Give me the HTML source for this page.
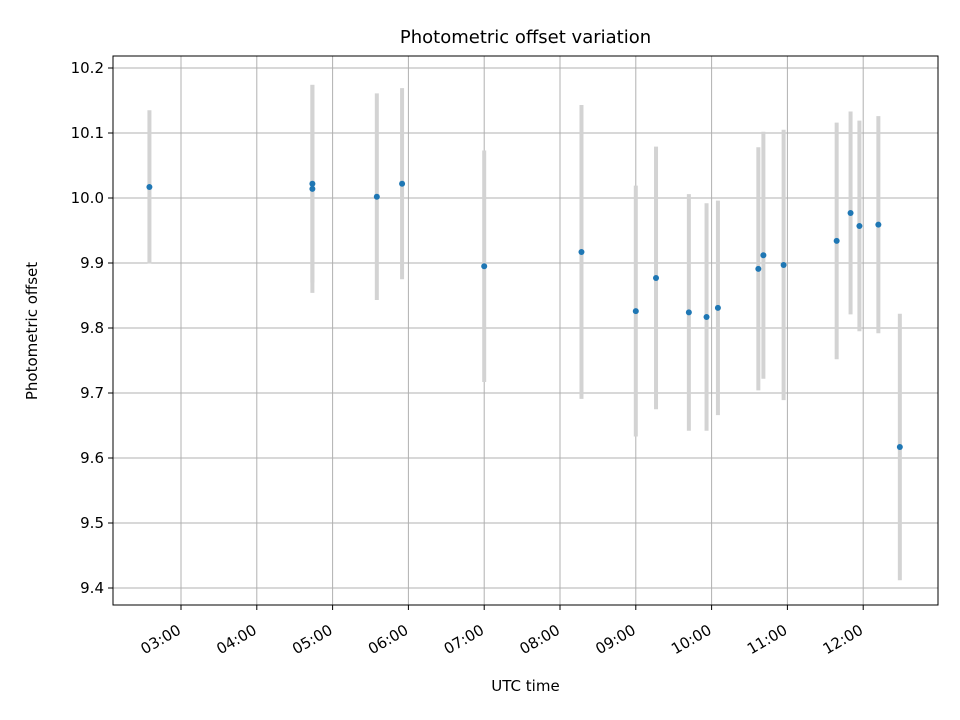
<!DOCTYPE html>
<html><head><meta charset="utf-8"><style>
body{margin:0;background:#fff}
svg{display:block;font-family:"DejaVu Sans","Liberation Sans",sans-serif}
</style></head><body>
<svg id="chart" width="960" height="720"></svg>
<script>
const times=["02:35","04:44","04:44","05:35","05:55","07:00","08:17","09:00","09:16","09:42","09:56","10:05","10:37","10:41","10:57","11:39","11:50","11:57","12:12","12:29"];
const offsets=[10.017,10.022,10.014,10.002,10.022,9.895,9.917,9.826,9.877,9.824,9.817,9.831,9.891,9.912,9.897,9.934,9.977,9.957,9.959,9.617];
const errors=[0.118,0.152,0.16,0.159,0.147,0.178,0.226,0.193,0.202,0.182,0.175,0.165,0.187,0.19,0.208,0.182,0.156,0.162,0.167,0.205];
const xTickLabels=["03:00","04:00","05:00","06:00","07:00","08:00","09:00","10:00","11:00","12:00"];
const yTickLabels=["9.4","9.5","9.6","9.7","9.8","9.9","10.0","10.1","10.2"];

const L=113,R=938,T=56,B=605;
const toH=s=>{const p=s.split(":");return +p[0]+ +p[1]/60;};
const X=h=>181+(h-3)*75.8;
const Y=v=>198-(v-10)*650;
const svg=document.getElementById('chart');
const NS="http://www.w3.org/2000/svg";
function mk(tag,attrs,parent){const e=document.createElementNS(NS,tag);for(const k in attrs)e.setAttribute(k,attrs[k]);(parent||svg).appendChild(e);return e;}

const grid=mk('g',{});


const axes=mk('g',{});


xTickLabels.forEach(t=>{
  const x=X(toH(t));
  mk('line',{x1:x,x2:x,y1:T,y2:B,stroke:'#b0b0b0','stroke-width':1},grid);
  mk('line',{x1:x,x2:x,y1:B,y2:B+5,stroke:'#000'},axes);
  const ax=x+1, ay=B+28;
  const tx=mk('text',{x:ax,y:ay,'font-size':15,'text-anchor':'end',transform:`rotate(-30 ${ax} ${ay})`},axes);
  tx.textContent=t;
  
  
});
yTickLabels.forEach(t=>{
  const y=Y(+t);
  mk('line',{x1:L,x2:R,y1:y,y2:y,stroke:'#b0b0b0','stroke-width':1},grid);
  mk('line',{x1:L-5,x2:L,y1:y,y2:y,stroke:'#000'},axes);
  const tx=mk('text',{x:L-9,y:y+5,'font-size':15,'text-anchor':'end'},axes);
  tx.textContent=t;
  
  
});
const series=mk('g',{});


times.forEach((t,i)=>{
  const x=X(toH(t));
  const b=mk('line',{x1:x,x2:x,y1:Y(offsets[i]+errors[i]),y2:Y(offsets[i]-errors[i]),stroke:'#d3d3d3','stroke-width':4},series);
  
  
});
times.forEach((t,i)=>{
  const c=mk('circle',{cx:X(toH(t)),cy:Y(offsets[i]),r:3,fill:'#1f77b4'},series);
  
  
});
const frame=mk('rect',{x:L,y:T,width:R-L,height:B-T,fill:'none',stroke:'#000','stroke-width':1});


const title=mk('text',{x:(L+R)/2,y:43,'font-size':18,'text-anchor':'middle'});
title.textContent='Photometric offset variation';


const xt=mk('text',{x:(L+R)/2,y:691,'font-size':15,'text-anchor':'middle'});
xt.textContent='UTC time';


const yt=mk('text',{x:37,y:331,'font-size':15,'text-anchor':'middle',transform:`rotate(-90 37 331)`});
yt.textContent='Photometric offset';


</script>
</body></html>
